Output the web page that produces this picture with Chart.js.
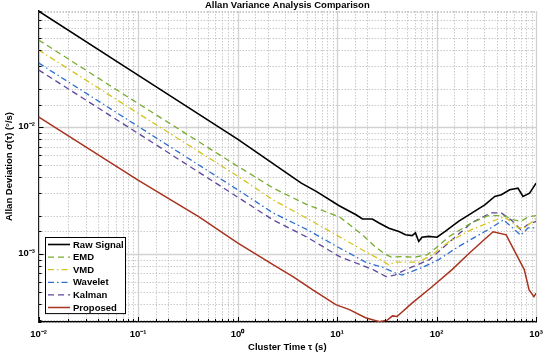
<!DOCTYPE html>
<html>
<head>
<meta charset="utf-8">
<script src="https://cdn.jsdelivr.net/npm/chart.js@4.4.1/dist/chart.umd.min.js"></script>
<style>
  html, body { margin: 0; padding: 0; background: #fff; }
  #wrap { width: 550px; height: 355px; }
</style>
</head>
<body>
<div id="wrap"><canvas id="avar"></canvas></div>
<script>
// values (tau in s, sigma in deg/s)
const rawTau   = [0.01, 0.1, 1, 4.37, 6.17, 10.5, 15.5, 18, 22.6, 26.4, 33.2, 41.8, 48.7, 56.7, 61.3, 66.1, 71.3, 83.2, 101, 122, 166, 225, 305, 384, 448, 542, 657, 737, 859, 1000];
const rawSigma = [0.0818, 0.0256, 0.0080, 0.0036, 0.0031, 0.00239, 0.00203, 0.00188, 0.00188, 0.00175, 0.00159, 0.0015, 0.00141, 0.00139, 0.00146, 0.00125, 0.00135, 0.00137, 0.00135, 0.0015, 0.0018, 0.00209, 0.00243, 0.00283, 0.00292, 0.00319, 0.00329, 0.00283, 0.0030, 0.0036];

const emdTau   = [0.01, 0.1, 1, 2.27, 4.9, 10.6, 18, 24, 30, 35, 45, 60, 80, 100, 132, 224, 330, 470, 600, 700, 830, 1000];
const emdSigma = [0.0484, 0.0153, 0.0049, 0.0033, 0.00245, 0.00195, 0.00141, 0.00114, 0.0010, 0.00094, 0.00095, 0.00094, 0.00098, 0.00112, 0.00136, 0.00175, 0.0020, 0.0020, 0.00185, 0.0018, 0.00195, 0.0020];

const vmdTau   = [0.01, 0.1, 1, 2.27, 5, 10.6, 18, 27, 33, 38, 50, 66, 90, 132, 224, 330, 470, 560, 660, 760, 1000];
const vmdSigma = [0.0404, 0.0128, 0.0041, 0.00266, 0.0019, 0.00136, 0.00107, 0.0009, 0.00082, 0.00086, 0.00086, 0.00086, 0.00098, 0.00124, 0.00155, 0.00175, 0.00195, 0.0018, 0.0016, 0.0016, 0.0019];

const waveTau   = [0.01, 0.1, 1, 2.27, 5, 10.6, 19.3, 29, 38, 45, 72, 105, 166, 330, 470, 580, 700, 830, 1000];
const waveSigma = [0.0319, 0.0101, 0.0032, 0.0021, 0.00155, 0.00111, 0.00086, 0.00078, 0.00071, 0.00068, 0.00078, 0.0009, 0.00114, 0.00155, 0.00185, 0.0016, 0.0014, 0.0016, 0.0016];

const kalTau   = [0.01, 0.1, 1, 2.27, 5, 10.6, 23, 31, 38, 49, 85, 143, 224, 350, 446, 560, 700, 830, 1000];
const kalSigma = [0.0281, 0.0089, 0.0028, 0.00185, 0.00135, 0.00095, 0.00075, 0.00066, 0.00068, 0.00075, 0.0009, 0.00129, 0.00175, 0.0021, 0.0021, 0.00185, 0.00155, 0.0017, 0.0018];

const propTau   = [0.01, 0.1, 0.41, 1, 2.27, 3.6, 5.7, 9.7, 13.3, 19.3, 26.6, 32, 36, 40, 57, 90, 143, 210, 300, 370, 500, 600, 760, 850, 950, 1000];
const propSigma = [0.012, 0.0038, 0.00195, 0.00122, 0.00082, 0.00066, 0.00052, 0.000397, 0.000363, 0.000313, 0.000292, 0.0003, 0.000324, 0.00032, 0.00041, 0.00055, 0.00075, 0.0010, 0.00129, 0.00149, 0.00141, 0.00107, 0.00075, 0.00052, 0.00046, 0.00049];

const seriesNames = ['Raw Signal', 'EMD', 'VMD', 'Wavelet', 'Kalman', 'Proposed'];

const xDecades = [0.01, 0.1, 1, 10, 100, 1000];
const xDecadeLabels = ['10⁻²', '10⁻¹', '10⁰', '10¹', '10²', '10³'];
const yDecades = [0.001, 0.01];
const yDecadeLabels = ['10⁻³', '10⁻²'];

const FONT = 'Liberation Sans, Arial, Helvetica, sans-serif';

function pts(tau, sig) {
    return tau.map((t, i) => ({ x: t, y: sig[i] }));
}

function isDecade(v) {
    const l = Math.log10(v);
    return Math.abs(l - Math.round(l)) < 1e-6;
}

function decadeLabel(v, decades, labels) {
    for (let i = 0; i < decades.length; i++) {
        if (Math.abs(v / decades[i] - 1) < 1e-6) return labels[i];
    }
    return '';
}

// dotted minor grid, solid decade grid, inward tick marks
const gridPlugin = {
    id: 'matlabGrid',
    beforeDatasetsDraw(chart) {
        const { ctx, chartArea: a, scales: { x, y } } = chart;
        ctx.save();
        const line = (x1, y1, x2, y2, major) => {
            ctx.beginPath();
            ctx.strokeStyle = major ? '#d2d2d2' : '#bcbcbc';
            ctx.lineWidth = major ? 1.3 : 0.8;
            ctx.setLineDash(major ? [] : [1.5, 1.5]);
            ctx.moveTo(x1, y1);
            ctx.lineTo(x2, y2);
            ctx.stroke();
        };
        x.ticks.forEach(t => {
            const px = Math.round(x.getPixelForValue(t.value)) + 0.5;
            line(px, a.top, px, a.bottom, isDecade(t.value));
        });
        y.ticks.forEach(t => {
            const py = Math.round(y.getPixelForValue(t.value)) + 0.5;
            line(a.left, py, a.right, py, isDecade(t.value));
        });
        ctx.restore();
    },
    afterDatasetsDraw(chart) {
        const { ctx, chartArea: a, scales: { x, y } } = chart;
        ctx.save();
        ctx.strokeStyle = '#000';
        ctx.lineWidth = 1;
        ctx.setLineDash([]);
        x.ticks.forEach(t => {
            const px = Math.round(x.getPixelForValue(t.value)) + 0.5;
            const len = isDecade(t.value) ? 5 : 3;
            ctx.beginPath();
            ctx.moveTo(px, a.bottom);
            ctx.lineTo(px, a.bottom - len);
            ctx.stroke();
        });
        y.ticks.forEach(t => {
            const py = Math.round(y.getPixelForValue(t.value)) + 0.5;
            const len = isDecade(t.value) ? 5 : 3;
            ctx.beginPath();
            ctx.moveTo(a.left, py);
            ctx.lineTo(a.left + len, py);
            ctx.stroke();
        });
        ctx.restore();
    }
};

// legend box inside the plot, bottom left
const legendPlugin = {
    id: 'insideLegend',
    afterDraw(chart) {
        const { ctx } = chart;
        const left = 45, top = 237, w = 80, rowH = 12.6;
        const h = rowH * chart.data.datasets.length + 0.5;
        ctx.save();
        ctx.fillStyle = '#fff';
        ctx.fillRect(left, top, w, h);
        ctx.strokeStyle = '#000';
        ctx.lineWidth = 1;
        ctx.setLineDash([]);
        ctx.strokeRect(left + 0.5, top + 0.5, w, h);
        ctx.font = 'bold 9.5px ' + FONT;
        ctx.textBaseline = 'middle';
        chart.data.datasets.forEach((ds, i) => {
            const cy = top + 7.5 + i * rowH;
            ctx.beginPath();
            ctx.strokeStyle = ds.borderColor;
            ctx.lineWidth = ds.borderWidth;
            ctx.setLineDash(ds.borderDash || []);
            ctx.moveTo(48, cy);
            ctx.lineTo(70, cy);
            ctx.stroke();
            ctx.fillStyle = '#000';
            ctx.fillText(ds.label, 73, cy + 0.5);
        });
        ctx.restore();
    }
};

const styles = [
    { color: '#000000', width: 1.6, dash: [] },
    { color: '#77ac30', width: 1.3, dash: [6, 4] },
    { color: '#d6c423', width: 1.3, dash: [6, 3, 1.5, 3] },
    { color: '#2f6fcf', width: 1.3, dash: [6, 3, 1.5, 3] },
    { color: '#5e479c', width: 1.3, dash: [6, 4] },
    { color: '#a8331f', width: 1.5, dash: [] }
];

const seriesData = [
    pts(rawTau, rawSigma),
    pts(emdTau, emdSigma),
    pts(vmdTau, vmdSigma),
    pts(waveTau, waveSigma),
    pts(kalTau, kalSigma),
    pts(propTau, propSigma)
];

const datasets = seriesNames.map((name, i) => ({
    label: name,
    data: seriesData[i],
    borderColor: styles[i].color,
    backgroundColor: styles[i].color,
    borderWidth: styles[i].width,
    borderDash: styles[i].dash,
    pointRadius: 0,
    tension: 0,
    fill: false
})).reverse();
// draw Raw Signal last (on top) but keep legend order
datasets.reverse();

new Chart(document.getElementById('avar'), {
    type: 'line',
    data: { datasets: datasets },
    options: {
        responsive: true,
        maintainAspectRatio: false,
        animation: false,
        events: [],
        layout: { padding: { left: 0, right: 9, top: 0, bottom: 0 } },
        plugins: {
            legend: { display: false },
            tooltip: { enabled: false },
            title: {
                display: true,
                text: 'Allan Variance Analysis Comparison',
                fullSize: false,
                color: '#000',
                font: { family: FONT, size: 9.5, weight: 'bold', lineHeight: 1.16 },
                padding: { top: 0, bottom: 0 }
            }
        },
        scales: {
            x: {
                type: 'logarithmic',
                min: 0.01,
                max: 1000,
                grid: { color: 'rgba(0,0,0,0)', drawTicks: false },
                border: { display: true, color: '#000', width: 1.5 },
                ticks: {
                    autoSkip: false,
                    maxRotation: 0,
                    padding: 7,
                    color: '#000',
                    font: { family: FONT, size: 9.5, weight: 'bold' },
                    callback: v => decadeLabel(v, xDecades, xDecadeLabels)
                },
                title: {
                    display: true,
                    text: 'Cluster Time τ (s)',
                    color: '#000',
                    font: { family: FONT, size: 9.5, weight: 'bold' },
                    padding: { top: 0, bottom: 2.3 }
                },
                afterFit: s => { s.height = 33; }
            },
            y: {
                type: 'logarithmic',
                min: 0.00029,
                max: 0.0818,
                grid: { color: 'rgba(0,0,0,0)', drawTicks: false },
                border: { display: true, color: '#000', width: 1.5 },
                ticks: {
                    autoSkip: false,
                    padding: 3.5,
                    color: '#000',
                    font: { family: FONT, size: 9.5, weight: 'bold' },
                    callback: v => decadeLabel(v, yDecades, yDecadeLabels)
                },
                title: {
                    display: true,
                    text: 'Allan Deviation σ(τ) (°/s)',
                    color: '#000',
                    font: { family: FONT, size: 9.5, weight: 'bold' },
                    padding: { top: 3.3, bottom: 0 }
                },
                afterFit: s => { s.width = 38.5; }
            }
        }
    },
    plugins: [gridPlugin, legendPlugin]
});
</script>
</body>
</html>
